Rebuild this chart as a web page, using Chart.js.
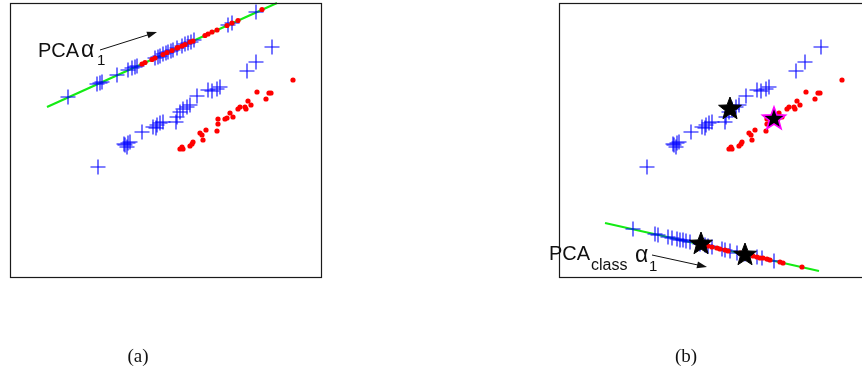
<!DOCTYPE html>
<html>
<head>
<meta charset="utf-8">
<script src="https://cdn.jsdelivr.net/npm/chart.js@4.4.1/dist/chart.umd.min.js"></script>
<style>
	html, body { margin: 0; padding: 0; background: #fff; }
	body { width: 862px; height: 373px; position: relative; overflow: hidden; }
	canvas { position: absolute; top: 0; }
	#panel-a { left: 0; }
	#panel-b { left: 431px; }
	.cap { position: absolute; top: 345px; width: 60px; text-align: center; line-height: 24px;
		font: 19px "Liberation Serif", "DejaVu Serif", serif; color: #111; }
</style>
</head>
<body>
<canvas id="panel-a" width="431" height="373"></canvas>
<canvas id="panel-b" width="440" height="373"></canvas>
<div class="cap" style="left:108px">(a)</div>
<div class="cap" style="left:656px">(b)</div>
<script>
// both clusters (lower one in (a), upper one in (b))
const clusterBlueX = [88, 115, 118, 117, 120, 114, 132, 143, 147, 150, 153, 146, 167, 170, 173, 177, 180, 166, 187, 198, 202, 207, 210, 237, 246, 262];
const clusterBlueY = [110, 132, 134, 130, 135, 133, 145, 150, 152, 154, 155, 149, 160, 165, 168, 170, 172, 155, 181, 187, 186, 188, 190, 206, 215, 230];
const clusterRedX = [170, 172, 173, 180, 182, 183, 190, 192, 193, 196, 207, 208, 208, 215, 217, 220, 223, 228, 230, 235, 236, 238, 241, 247, 256, 259, 261, 283];
const clusterRedY = [128, 130, 128, 131, 133, 135, 144, 142, 137, 147, 146, 153, 158, 158, 159, 164, 160, 168, 170, 170, 168, 176, 172, 185, 178, 184, 184, 197];

// (a) PCA direction and points along it
const pcaLineX = [37, 267];
const pcaLineY = [170, 274];
const pcaBlueX = [58, 87, 90, 92, 107, 118, 122, 125, 127, 145, 148, 150, 153, 156, 158, 161, 163, 167, 172, 175, 178, 181, 184, 218, 222, 246];
const pcaBlueY = [180, 193, 194, 195, 202, 207, 209, 210, 211, 219, 220, 221, 223, 224, 225, 226, 227, 229, 231, 233, 234, 235, 237, 252, 254, 265];
const pcaRedX = [132, 135, 142, 145, 153, 157, 162, 167, 168, 172, 175, 180, 183, 195, 198, 202, 207, 217, 222, 228, 252];
const pcaRedY = [213, 214.5, 217.5, 219, 222.5, 224.5, 226.5, 229, 229.5, 231, 232.5, 235, 236, 241.5, 243, 245, 247, 251.5, 254, 256.5, 267.5];

// (b) class-PCA direction, points along it, class means
const classLineX = [46, 260];
const classLineY = [54, 6];
const classBlueX = [74, 96, 99, 109, 113, 118, 121, 124, 127, 131, 141, 146, 149, 153, 163, 166, 171, 178, 186, 198, 203, 215];
const classBlueY = [48, 43, 42, 40, 39, 38, 37, 37, 36, 35, 33, 32, 31, 30, 28, 27, 26, 24, 23, 20, 19, 16];
const classRedX = [149, 153, 158, 161, 166, 169, 181, 188, 194, 198, 201, 204, 208, 211, 221, 224, 243];
const classRedY = [31, 30, 29, 28, 27, 26, 24, 22, 21, 20, 19, 19, 18, 17, 15, 14, 10];
const meanBlue = [171, 169];
const meanRed = [215, 159];
const meanBlueProj = [142, 34];
const meanRedProj = [186, 23];

const pts = (xs, ys) => xs.map((x, i) => ({ x, y: ys[i] }));

function makeStar(r, edge) {
	const s = Math.ceil(r * 2 + 4);
	const c = document.createElement('canvas');
	c.width = c.height = s;
	const g = c.getContext('2d');
	g.beginPath();
	for (let i = 0; i < 10; i++) {
		const rr = i % 2 ? r * 0.42 : r;
		const a = -Math.PI / 2 + i * Math.PI / 5;
		g.lineTo(s / 2 + rr * Math.cos(a), s / 2 + rr * Math.sin(a) + 1);
	}
	g.closePath();
	g.fillStyle = '#000';
	g.fill();
	g.strokeStyle = edge || '#000';
	g.lineWidth = edge ? 1.6 : 1;
	g.stroke();
	return c;
}
const starBlack = makeStar(12);
const starMagenta = makeStar(12, '#ff00ff');

const crosses = (data) => ({ data, pointStyle: 'cross', pointRadius: 7.5, borderWidth: 1.1, borderColor: '#0000ff', order: 5, clip: false });
const dots = (data) => ({ data, pointStyle: 'circle', pointRadius: 2.6, borderWidth: 0, backgroundColor: '#ff0000', order: 4, clip: false });
const greenLine = (data) => ({ type: 'line', data, borderColor: 'rgb(20,235,20)', borderWidth: 2.2, pointRadius: 0, order: 10, clip: false });
const stars = (data, img) => ({ data, pointStyle: img, pointRadius: 12, order: 1, clip: false });

// frame, arrow and the tex-like label
const decor = {
	id: 'decor',
	afterDatasetsDraw(chart, args, opts) {
		const { ctx, chartArea: a, scales: { x, y } } = chart;
		ctx.save();
		ctx.strokeStyle = '#1a1a1a';
		ctx.lineWidth = 1.2;
		ctx.strokeRect(Math.round(a.left) + 0.5, Math.round(a.top) + 0.5, a.right - a.left, a.bottom - a.top);

		const [x0, y0, x1, y1] = [x.getPixelForValue(opts.arrow[0]), y.getPixelForValue(opts.arrow[1]),
			x.getPixelForValue(opts.arrow[2]), y.getPixelForValue(opts.arrow[3])];
		const ang = Math.atan2(y1 - y0, x1 - x0);
		ctx.strokeStyle = '#111';
		ctx.fillStyle = '#111';
		ctx.lineWidth = 1;
		ctx.beginPath();
		ctx.moveTo(x0, y0);
		ctx.lineTo(x1 - 6 * Math.cos(ang), y1 - 6 * Math.sin(ang));
		ctx.stroke();
		ctx.beginPath();
		ctx.moveTo(x1, y1);
		ctx.lineTo(x1 - 10 * Math.cos(ang) + 3.5 * Math.sin(ang), y1 - 10 * Math.sin(ang) - 3.5 * Math.cos(ang));
		ctx.lineTo(x1 - 10 * Math.cos(ang) - 3.5 * Math.sin(ang), y1 - 10 * Math.sin(ang) + 3.5 * Math.cos(ang));
		ctx.closePath();
		ctx.fill();

		ctx.textBaseline = 'alphabetic';
		opts.texts.forEach((t) => {
			ctx.font = t.size + 'px "Liberation Sans", Arial, sans-serif';
			ctx.fillText(t.text, x.getPixelForValue(t.x), y.getPixelForValue(t.y));
		});
		ctx.restore();
	},
};

function panel(id, padding, xMax, datasets, deco) {
	return new Chart(document.getElementById(id), {
		type: 'scatter',
		data: { datasets },
		options: {
			responsive: false,
			animation: false,
			devicePixelRatio: 1,
			events: [],
			layout: { padding, autoPadding: false },
			scales: {
				x: { type: 'linear', display: false, min: 0, max: xMax },
				y: { type: 'linear', display: false, min: 0, max: 274 },
			},
			plugins: { legend: { display: false }, tooltip: { enabled: false }, decor: deco },
		},
		plugins: [decor],
	});
}

panel('panel-a', { left: 10, top: 3, right: 110, bottom: 96 }, 311, [
	greenLine(pts(pcaLineX, pcaLineY)),
	crosses(pts(clusterBlueX, clusterBlueY)),
	crosses(pts(pcaBlueX, pcaBlueY)),
	dots(pts(clusterRedX, clusterRedY)),
	dots(pts(pcaRedX, pcaRedY)),
], {
	arrow: [90, 227, 147, 245],
	texts: [
		{ text: 'PCA', x: 28, y: 220, size: 20 },
		{ text: 'α', x: 71, y: 220, size: 23 },
		{ text: '1', x: 87, y: 212, size: 15 },
	],
});

panel('panel-b', { left: 128, top: 3, right: 5, bottom: 96 }, 307, [
	greenLine(pts(classLineX, classLineY)),
	crosses(pts(clusterBlueX, clusterBlueY)),
	crosses(pts(classBlueX, classBlueY)),
	dots(pts(clusterRedX, clusterRedY)),
	dots(pts(classRedX, classRedY)),
	stars([{ x: meanBlue[0], y: meanBlue[1] }, { x: meanBlueProj[0], y: meanBlueProj[1] }, { x: meanRedProj[0], y: meanRedProj[1] }], starBlack),
	stars([{ x: meanRed[0], y: meanRed[1] }], starMagenta),
], {
	arrow: [93, 22, 148, 10],
	texts: [
		{ text: 'PCA', x: -10, y: 17, size: 20 },
		{ text: 'class', x: 32, y: 7, size: 16 },
		{ text: 'α', x: 76, y: 15, size: 23 },
		{ text: '1', x: 90, y: 6, size: 15 },
	],
});
</script>
</body>
</html>
